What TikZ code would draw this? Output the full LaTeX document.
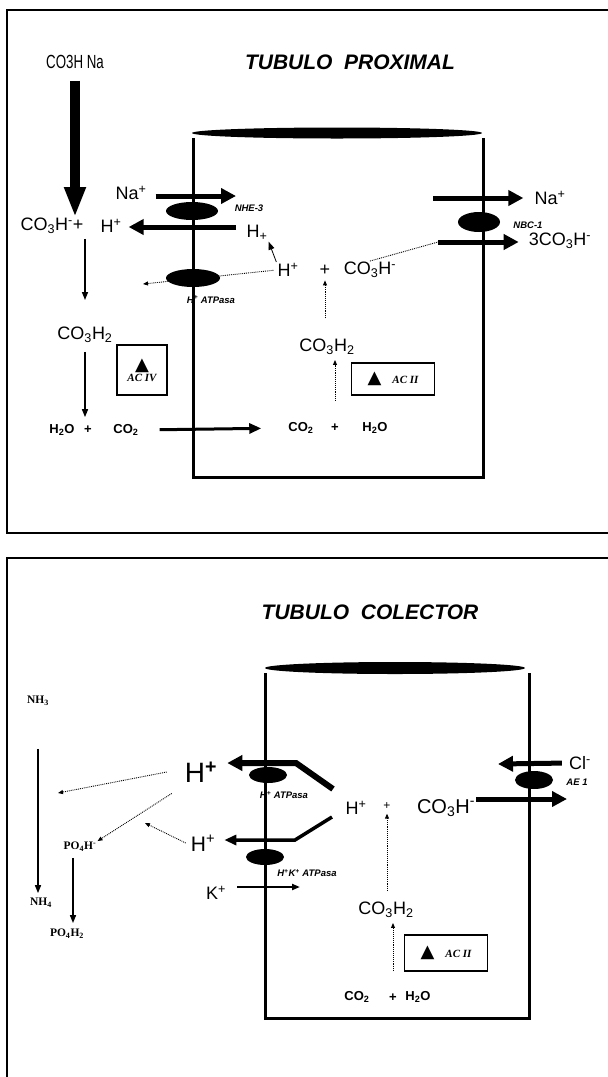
\documentclass[tikz,border=0pt]{standalone}
\usepackage{fontspec}
\setmainfont{Liberation Sans}
\newfontfamily\timesfont{Liberation Serif}
\newfontfamily\symfont{DejaVu Sans}
\usetikzlibrary{arrows.meta,shapes.geometric}
\newcommand{\fs}[1]{\fontsize{#1}{#1}\selectfont}
\newcommand{\tri}{{\symfont\fs{18}▲}}
\begin{document}
\begin{tikzpicture}[x=1pt,y=-1pt,
  every node/.style={inner sep=1pt},
  chem/.style={font=\fs{18}},
  small/.style={font=\fs{13}\bfseries},
  tag/.style={font=\fs{9.5}\bfseries\itshape},
  title/.style={font=\fs{21}\bfseries\itshape},
  serifchem/.style={font=\fs{11.5}\timesfont\bfseries},
  pump/.style={ellipse,fill=black,inner sep=0pt},
  wall/.style={line width=3pt},
  frame/.style={line width=2.5pt},
  enzbox/.style={draw,line width=1.2pt,inner sep=2pt,font=\fs{11}\timesfont\bfseries\itshape},
  bigarrow/.style={line width=10pt,-{Triangle[width=20pt,length=30pt]}},
  memarrow/.style={line width=5pt,-{Triangle[width=15pt,length=15pt]}},
  midarrow/.style={line width=3pt,-{Triangle[width=10pt,length=12pt]}},
  thinarrow/.style={line width=1.5pt,-{Triangle[width=6pt,length=8pt]}},
  dotarrow/.style={line width=0.9pt,densely dotted,-{Triangle[width=4pt,length=5pt]}}]
\useasboundingbox (0,0) rectangle (608,1077);
\draw[frame] (608,10) -- (7,10) -- (7,533) -- (608,533);
\draw[frame] (608,558) -- (7,558) -- (7,1077);

% tubulo proximal
\node[chem] (co3hna) at (75,62) {\scalebox{0.7}[1]{\fs{19}CO3H Na}};
\node[title] (titleP) at (350,62) {TUBULO\ \ PROXIMAL};
\draw[wall] (193,138) -- (193,477) -- (483,477) -- (483,138);
\node[pump,minimum width=290,minimum height=11] (capP) at (337,133) {};
\node[pump,minimum width=52,minimum height=18] (nhe) at (192,211) {};
\node[pump,minimum width=54,minimum height=18] (atpP) at (193,278) {};
\node[pump,minimum width=42,minimum height=20] (nbc) at (479,222) {};

\node[chem] (naL) at (131,193) {Na\textsuperscript{+}};
\node[tag] (nheLbl) at (249,208) {NHE-3};
\node[chem] (co3hL) at (52,226) {CO\textsubscript{3}H\textsuperscript{-}+};
\node[chem] (hL) at (111,226) {H\textsuperscript{+}};
\node[chem] (hUp) at (257,233) {H\textsubscript{+}};
\node[chem] (hMid) at (288,270) {H\textsuperscript{+}};
\node[chem] (plusMid) at (325,270) {+};
\node[chem] (co3hMid) at (370,270) {CO\textsubscript{3}H\textsuperscript{-}};
\node[chem] (naR) at (550,198) {Na\textsuperscript{+}};
\node[tag] (nbcLbl) at (528,225) {NBC-1};
\node[chem] (co3hR) at (560,241) {3CO\textsubscript{3}H\textsuperscript{-}};
\node[tag] (atpLbl) at (211,300) {H\textsuperscript{+} ATPasa};
\node[chem] (co3h2L) at (85,335) {CO\textsubscript{3}H\textsubscript{2}};
\node[enzbox,minimum width=50,minimum height=50,align=center] (acIV) at (142,370) {\tri\\AC IV};
\node[small] (h2oL) at (62,430) {H\textsubscript{2}O};
\node[small] (plusL) at (88,430) {+};
\node[small] (co2L) at (126,430) {CO\textsubscript{2}};
\node[chem] (co3h2In) at (327,347) {CO\textsubscript{3}H\textsubscript{2}};
\node[enzbox,minimum width=83,minimum height=32] (acII) at (393,379) {\tri\quad AC II};
\node[small] (co2In) at (301,428) {CO\textsubscript{2}};
\node[small] (plusIn) at (335,428) {+};
\node[small] (h2oIn) at (375,428) {H\textsubscript{2}O};

\coordinate (naTip) at (236,196);
\coordinate (hxStart) at (236,227);
\coordinate (atpOut) at (143,284);
\coordinate (nbcIn) at (438,242);
\coordinate (naStart) at (433,198);
\draw[bigarrow,shorten <=11] (co3hna.south) -- (co3hna.south |- co3hL.north);
\draw[memarrow,shorten <=8] (naL.east |- naTip) -- (naTip);
\draw[memarrow,shorten >=6] (hxStart) -- (hL.east |- hxStart);
\draw[thinarrow,shorten <=4,shorten >=26] (co3hL.south -| co3h2L.north) -- (co3h2L.north);
\draw[dotarrow,shorten <=3] (hMid.west) -- (atpOut);
\draw[thinarrow,line width=0.8pt] (hMid.north west) -- (hUp.south east);
\draw[line width=0.9pt,densely dotted] (co3hMid.north) -- (nbcIn);
\draw[memarrow,shorten >=9] (nbcIn) -- (co3hR.west |- nbcIn);
\draw[memarrow,shorten >=10] (naStart) -- (naR.west |- naStart);
\draw[dotarrow,shorten <=20,shorten >=4] (co3h2In.north -| plusMid) -- (plusMid.south);
\draw[thinarrow,shorten <=8,shorten >=6] (co3h2L.south) -- (co3h2L.south |- h2oL.north);
\draw[midarrow,shorten <=20,shorten >=26] (co2L.east) -- (co2In.west);
\draw[dotarrow,shorten <=22,shorten >=4] (plusIn.north) -- (plusIn.north |- co3h2In.south);

% tubulo colector
\node[title] (titleC) at (370,612) {TUBULO\ \ COLECTOR};
\draw[wall] (265,673) -- (265,1018) -- (529,1018) -- (529,673);
\node[pump,minimum width=260,minimum height=12] (capC) at (395,668) {};
\node[pump,minimum width=38,minimum height=16] (atpC) at (268,775) {};
\node[pump,minimum width=38,minimum height=16] (hk) at (265,857) {};
\node[pump,minimum width=38,minimum height=18] (ae1) at (534,780) {};

\node[serifchem] (nh3) at (38,701) {NH\textsubscript{3}};
\node[serifchem] (nh4) at (41,903) {NH\textsubscript{4}};
\node[serifchem] (po4h) at (80,847) {PO\textsubscript{4}H\textsuperscript{-}};
\node[serifchem] (po4h2) at (67,934) {PO\textsubscript{4}H\textsubscript{2}};
\node[font=\fs{28}] (hBig) at (201,772) {H\textsuperscript{\bfseries +}};
\node[font=\fs{21}] (hLow) at (203,843) {H\textsuperscript{+}};
\node[chem] (kIon) at (216,893) {K\textsuperscript{+}};
\node[tag] (atpCLbl) at (284,795) {H\textsuperscript{+} ATPasa};
\node[tag] (hkLbl) at (307,873) {H\textsuperscript{+}K\textsuperscript{+} ATPasa};
\node[chem] (hCtr) at (356,808) {H\textsuperscript{+}};
\node[font=\fs{12}] (plusC) at (387,806) {+};
\node[font=\fs{20}] (co3hC) at (446,808) {CO\textsubscript{3}H\textsuperscript{-}};
\node[chem] (clIon) at (580,763) {Cl\textsuperscript{-}};
\node[tag] (ae1Lbl) at (577,782) {AE 1};
\node[chem] (co3h2C) at (386,910) {CO\textsubscript{3}H\textsubscript{2}};
\node[enzbox,minimum width=83,minimum height=36] (acIIc) at (446,953) {\tri\quad AC II};
\node[small] (co2C) at (357,997) {CO\textsubscript{2}};
\node[small] (plusB) at (393,998) {+};
\node[small] (h2oC) at (418,997) {H\textsubscript{2}O};

\coordinate (atpIn) at (333,789);
\coordinate (atpBend) at (296,763);
\coordinate (hkIn) at (332,817);
\coordinate (hkBend) at (295,840);
\coordinate (nhDot) at (58,793);
\coordinate (hLowDot) at (145,823);
\coordinate (kTip) at (300,887);
\coordinate (clTip) at (498,764);
\coordinate (aeOut) at (567,799);
\draw[thinarrow,shorten <=42,shorten >=4] (nh3.south) -- (nh3.south |- nh4.north);
\draw[thinarrow,shorten <=5,shorten >=5] ([xshift=-7]po4h.south) -- ([xshift=-7]po4h.south |- po4h2.north);
\draw[memarrow,line width=6pt,shorten >=9] (atpIn) -- (atpBend) -- (atpBend -| hBig.east);
\draw[midarrow,line width=3.5pt,shorten >=8] (hkIn) -- (hkBend) -- (hkBend -| hLow.east);
\draw[dotarrow] ([xshift=-17]hBig.west) -- (nhDot);
\draw[dotarrow] ([shift={(-12,10)}]hBig.south west) -- (po4h.north east);
\draw[dotarrow] ([xshift=-4]hLow.west) -- (hLowDot);
\draw[thinarrow,line width=2.5pt,shorten <=10] (kIon.east |- kTip) -- (kTip);
\draw[memarrow,shorten <=6] (clIon.west) -- (clTip);
\draw[memarrow] (co3hC.east |- aeOut) -- (aeOut);
\draw[dotarrow,shorten <=10,shorten >=3] (co3h2C.north -| plusC) -- (plusC.south);
\draw[dotarrow,shorten <=22,shorten >=4] (plusB.north) -- (plusB.north |- co3h2C.south);
\end{tikzpicture}
\end{document}
